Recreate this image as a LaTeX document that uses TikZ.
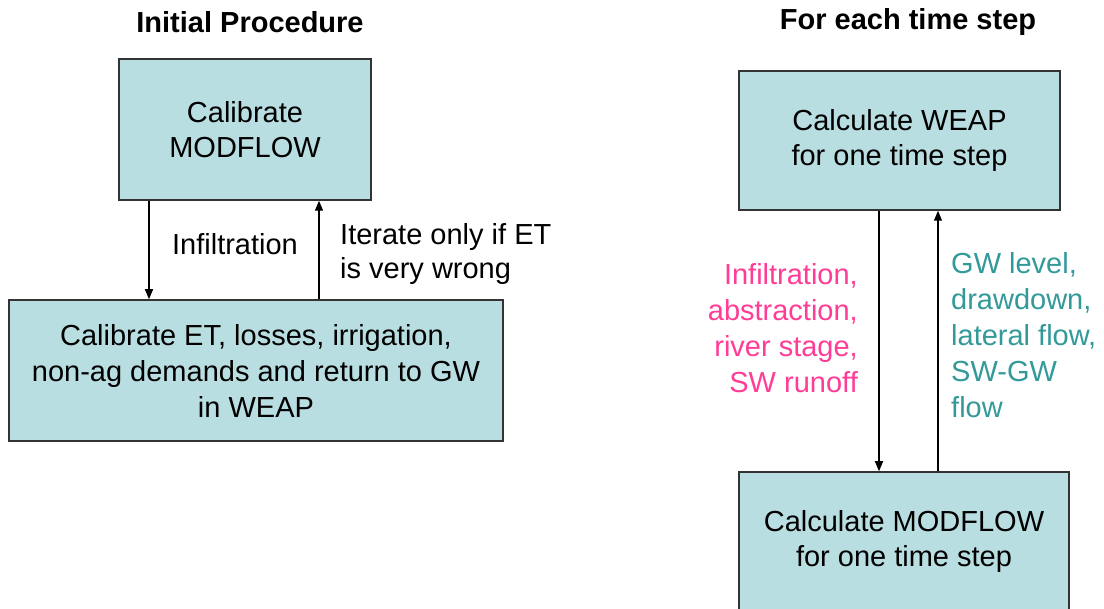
\documentclass[tikz,border=0pt]{standalone}
\usepackage{fontspec}
\setmainfont{Liberation Sans}
\usepackage{tikz}
\usetikzlibrary{arrows.meta, calc}
\definecolor{boxfill}{RGB}{185,222,225}
\definecolor{inpink}{RGB}{255,60,150}
\definecolor{outteal}{RGB}{51,153,153}

\begin{document}
\begin{tikzpicture}[x=1pt, y=-1pt,
  box/.style={draw=black!80, line width=1.5pt, fill=boxfill, align=center, inner sep=0pt},
  arr/.style={line width=1.3pt, -{Triangle[length=10pt,width=8pt]}},
  txt/.style={inner sep=0pt, font=\fontsize{29}{35}\selectfont}]
\clip (0,0) rectangle (1104,609);
\fill[white] (0,0) rectangle (1104,609);
% left: initial procedure
\node[txt, font=\fontsize{29}{35}\selectfont\bfseries] (inittitle) at (250,22) {Initial Procedure};
\node[box, txt, minimum width=252pt, minimum height=141pt] (calmod) at (245,129.5) {Calibrate\\MODFLOW};
\node[box, txt, minimum width=494pt, minimum height=141pt, font=\fontsize{29}{36}\selectfont] (calet) at (256,370.5) {Calibrate ET, losses, irrigation,\\non-ag demands and return to GW\\in WEAP};
\draw[arr] ([xshift=-96pt]calmod.south) -- ([xshift=-96pt]calmod.south |- calet.north);
\draw[arr] ([xshift=74pt]calmod.south |- calet.north) -- ([xshift=74pt]calmod.south);
\node[txt] (infil) at (235,244) {Infiltration};
\node[txt, anchor=west, align=left, font=\fontsize{29}{34}\selectfont] (iter) at (340,254) {Iterate only if ET\\is very wrong};
% right: each time step
\node[txt, font=\fontsize{29}{35}\selectfont\bfseries] (steptitle) at (908,22) {For each time step};
\node[box, txt, minimum width=321pt, minimum height=139pt] (weap) at (899.5,140.5) {Calculate WEAP\\for one time step};
\node[box, txt, minimum width=330pt, minimum height=140pt] (modstep) at (904,542) {Calculate MODFLOW\\for one time step};
\draw[arr] ([xshift=-20.5pt]weap.south) -- ([xshift=-20.5pt]weap.south |- modstep.north);
\draw[arr] ([xshift=38.5pt]weap.south |- modstep.north) -- ([xshift=38.5pt]weap.south);
\node[txt, anchor=east, align=right, text=inpink, font=\fontsize{29}{36}\selectfont] (inputs) at (858,328.5) {Infiltration,\\abstraction,\\river stage,\\SW runoff};
\node[txt, anchor=west, align=left, text=outteal, font=\fontsize{29}{36}\selectfont] (outputs) at (951,335) {GW level,\\drawdown,\\lateral flow,\\SW-GW\\flow};
\end{tikzpicture}
\end{document}
